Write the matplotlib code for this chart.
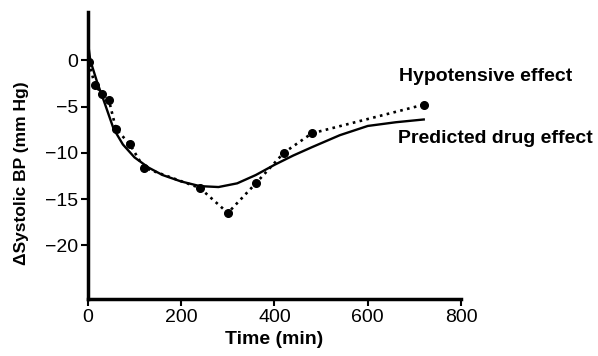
import matplotlib
matplotlib.use("Agg")
import matplotlib.pyplot as plt

plt.rcParams["font.family"] = ["Liberation Sans", "DejaVu Sans"]

# observed hypotensive effect (dots)
obs_t = [2, 15, 30, 45, 60, 90, 120, 240, 300, 360, 420, 480, 720]
obs_bp = [-0.2, -2.7, -3.6, -4.3, -7.4, -9.1, -11.6, -13.8, -16.5, -13.3, -10.0, -7.9, -4.8]

# predicted drug effect (solid curve)
pred_t = [0, 5, 20, 35, 55, 75, 100, 130, 160, 200, 240, 280, 320, 360,
          400, 440, 480, 540, 600, 660, 720]
pred_bp = [2.0, 0.0, -2.4, -4.5, -7.4, -9.1, -10.5, -11.6, -12.4, -13.1, -13.6,
           -13.7, -13.3, -12.4, -11.3, -10.3, -9.4, -8.1, -7.1, -6.7, -6.4]

xticks = [0, 200, 400, 600, 800]
yticks = [0, -5, -10, -15, -20]

fig = plt.figure(figsize=(5.98, 3.56), dpi=100)
ax = fig.add_axes([0.147, 0.160, 0.624, 0.806])

ax.plot(pred_t, pred_bp, "-", color="black", lw=1.7)
ax.plot(obs_t, obs_bp, ":", color="black", lw=1.9, marker="o", ms=5.5)

ax.set_xlim(0, 800)
ax.set_ylim(-25.8, 5.2)
ax.set_xticks(xticks)
ax.set_yticks(yticks)
ax.set_yticklabels(["0", "\u22125", "\u221210", "\u221215", "\u221220"])
ax.tick_params(labelsize=14, width=1.5, length=5, direction="out", pad=2)

for s in ["top", "right"]:
    ax.spines[s].set_visible(False)
for s in ["left", "bottom"]:
    ax.spines[s].set_linewidth(2.5)

ax.set_xlabel("Time (min)", fontsize=14, fontweight="bold", labelpad=4)
ax.set_ylabel("\u0394Systolic BP (mm Hg)", fontsize=12.5, fontweight="bold")
ax.yaxis.set_label_coords(-0.157, 0.44)

ax.text(668, -1.8, "Hypotensive effect", fontsize=14, fontweight="bold",
        va="center", ha="left")
ax.text(664, -8.5, "Predicted drug effect", fontsize=14, fontweight="bold",
        va="center", ha="left")

plt.savefig("out.png", dpi=100)
